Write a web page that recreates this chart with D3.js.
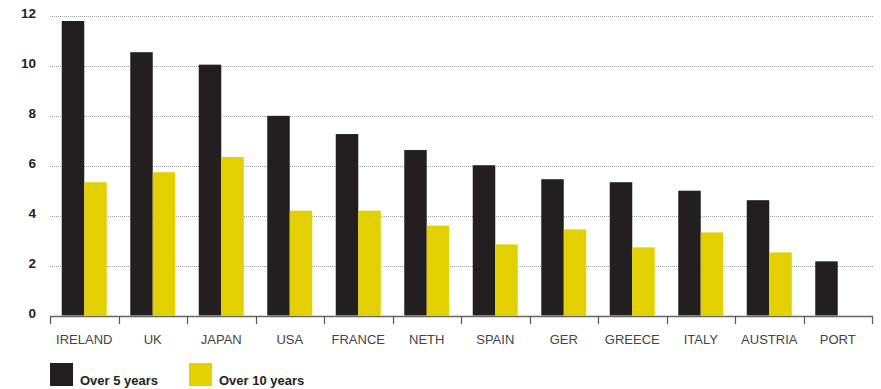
<!DOCTYPE html>
<html>
<head>
<meta charset="utf-8">
<script src="https://d3js.org/d3.v7.min.js"></script>
<style>
  body { margin: 0; background: #fff; }
  svg { display: block; font-family: "Liberation Sans", Arial, sans-serif; }
</style>
</head>
<body>
<svg id="chart" width="881" height="389"></svg>
<script>
// countries, in chart order
var countries = ["IRELAND", "UK", "JAPAN", "USA", "FRANCE", "NETH", "SPAIN", "GER", "GREECE", "ITALY", "AUSTRIA", "PORT"];
var over5 = [11.8, 10.55, 10.05, 8.0, 7.27, 6.63, 6.02, 5.46, 5.34, 5.0, 4.62, 2.17];
var over10 = [5.34, 5.74, 6.35, 4.2, 4.2, 3.6, 2.85, 3.45, 2.73, 3.33, 2.53, null];
var yTicks = [0, 2, 4, 6, 8, 10, 12];
var seriesNames = ["Over 5 years", "Over 10 years"];
var colors = ["#231f20", "#e3d000"];

var svg = d3.select("#chart");

var x = d3.scaleBand().domain(countries).range([50, 872]);
var y = d3.scaleLinear().domain([0, 12]).range([315.5, 16]);
var barW = 22.5;

// dotted grid
svg.append("g").selectAll("line")
  .data(yTicks.filter(function (d) { return d > 0; }))
  .join("line")
  .attr("x1", 50).attr("x2", 873)
  .attr("y1", function (d) { return Math.round(y(d)) + 0.5; })
  .attr("y2", function (d) { return Math.round(y(d)) + 0.5; })
  .attr("stroke", "#a0a0a0")
  .attr("stroke-width", 1)
  .attr("stroke-dasharray", "1,1");

// y labels
svg.append("g").selectAll("text")
  .data(yTicks)
  .join("text")
  .attr("x", 36)
  .attr("y", function (d) { return y(d) + 2; })
  .attr("text-anchor", "end")
  .attr("font-size", 13.5)
  .attr("font-weight", "bold")
  .attr("fill", "#231f20")
  .text(function (d) { return d; });

// bars
var g = svg.append("g");
g.selectAll("rect.b5")
  .data(countries)
  .join("rect")
  .attr("class", "b5")
  .attr("x", function (d) { return x(d) + x.bandwidth() / 2 - barW; })
  .attr("width", barW)
  .attr("y", function (d, i) { return y(over5[i]); })
  .attr("height", function (d, i) { return y(0) - y(over5[i]); })
  .attr("fill", colors[0]);

g.selectAll("rect.b10")
  .data(countries.filter(function (d, i) { return over10[i] != null; }))
  .join("rect")
  .attr("class", "b10")
  .attr("x", function (d) { return x(d) + x.bandwidth() / 2; })
  .attr("width", barW)
  .attr("y", function (d) { return y(over10[countries.indexOf(d)]); })
  .attr("height", function (d) { return y(0) - y(over10[countries.indexOf(d)]); })
  .attr("fill", colors[1]);

// x axis: baseline with ticks at band edges
var axis = svg.append("g");
axis.append("line")
  .attr("x1", 50).attr("x2", 873)
  .attr("y1", 316.5).attr("y2", 316.5)
  .attr("stroke", "#666").attr("stroke-width", 1.6);
var edges = countries.map(function (d) { return x(d); }).concat([x.range()[1]]);
axis.selectAll("line.tick")
  .data(edges)
  .join("line")
  .attr("class", "tick")
  .attr("x1", function (d) { return Math.round(d) + 0.5; })
  .attr("x2", function (d) { return Math.round(d) + 0.5; })
  .attr("y1", 316).attr("y2", 324)
  .attr("stroke", "#555").attr("stroke-width", 1.2);

axis.selectAll("text")
  .data(countries)
  .join("text")
  .attr("x", function (d) { return x(d) + x.bandwidth() / 2; })
  .attr("y", 344)
  .attr("text-anchor", "middle")
  .attr("font-size", 13)
  .attr("fill", "#444")
  .text(function (d) { return d; });

// legend
var legX = [50, 189];
var leg = svg.append("g").selectAll("g")
  .data(seriesNames)
  .join("g")
  .attr("transform", function (d, i) { return "translate(" + legX[i] + ",363)"; });
leg.append("rect")
  .attr("width", 23).attr("height", 23)
  .attr("fill", function (d, i) { return colors[i]; });
leg.append("text")
  .attr("x", 30).attr("y", 22)
  .attr("font-size", 13)
  .attr("font-weight", "bold")
  .attr("fill", "#231f20")
  .text(function (d) { return d; });
</script>
</body>
</html>
